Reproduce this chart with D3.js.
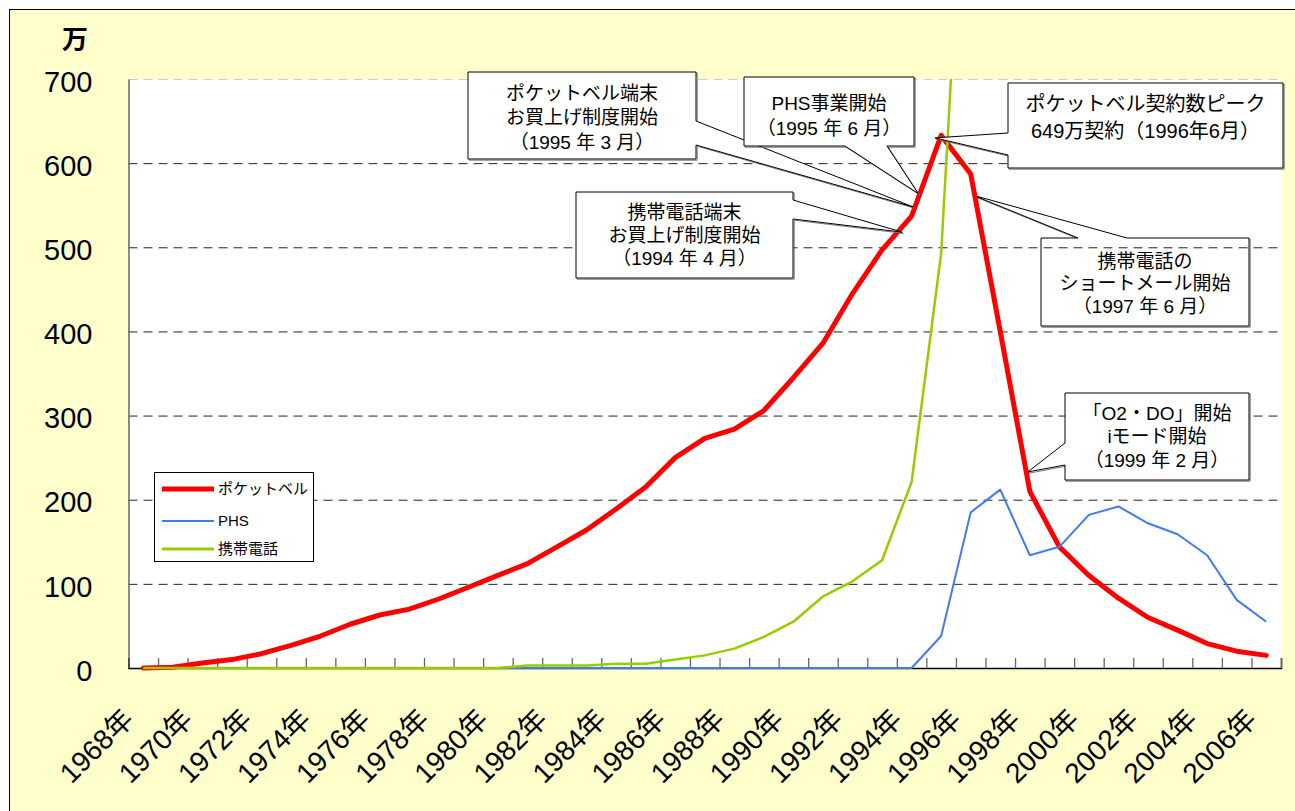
<!DOCTYPE html>
<html><head><meta charset="utf-8">
<script src="https://cdn.jsdelivr.net/npm/d3@7"></script>
<style>body{margin:0;background:#fff;} svg{display:block;}</style>
</head><body>
<svg id="c" width="1295" height="811"></svg>
<script>
// ---------- data ----------
const years = ["1968年","1969年","1970年","1971年","1972年","1973年","1974年","1975年","1976年","1977年",
  "1978年","1979年","1980年","1981年","1982年","1983年","1984年","1985年","1986年","1987年",
  "1988年","1989年","1990年","1991年","1992年","1993年","1994年","1995年","1996年","1997年",
  "1998年","1999年","2000年","2001年","2002年","2003年","2004年","2005年","2006年"];
const pager = [0,1,6,10,17,27,38,52,63,70,82,96,110,124,144,164,189,215,250,273,
  284,306,345,386,445,497,537,633,587,400,210,144,110,83,60,45,29,20,15];
const phs = [0,0,0,0,0,0,0,0,0,0,0,0,0,0,0,0,0,0,0,0,
  0,0,0,0,0,0,0,38,185,212,134,144,182,192,172,159,134,81,55];
const mobile = [0,0,0,0,0,0,0,0,0,0,0,0,0,3,3,3,5,5,10,15,
  23,37,55,85,103,128,221,493,1120,2088,3153,4153,5114,6094,6912,7566,8152,8700,9179];
const seriesNames = ["ポケットベル","PHS","携帯電話"];
const yTicks = [0,100,200,300,400,500,600,700];
const xTickLabels = years.filter((d,i)=>i%2===0);
const unitLabel = "万";
const noteTexts = [
  ["ポケットベル端末","お買上げ制度開始","（1995 年 3 月）"],
  ["携帯電話端末","お買上げ制度開始","（1994 年 4 月）"],
  ["PHS事業開始","（1995 年 6 月）"],
  ["ポケットベル契約数ピーク","649万契約（1996年6月）"],
  ["携帯電話の","ショートメール開始","（1997 年 6 月）"],
  ["「O2・DO」開始","iモード開始","（1999 年 2 月）"]
];
// pointer targets in data space: [category index, value]
const noteTargets = [[26.05,548],[25.68,518],[26.22,564],[26.79,630],[28.07,562],[29.93,233]];

// ---------- layout ----------
const M = {left:128.5, right:1281, top:79, bottom:668};
const colors = ["#FF0000","#3F7CF4","#99CC00"];
const widths = [5,2,2.5];
const noteLayout = [
  {box:[468,72,696,159], side:"right", a:121, b:145, ty:93, lh:24.5},
  {box:[576,192,793,278], side:"right", a:200, b:219, ty:212, lh:23},
  {box:[744,77,914,146], side:"bottom", a:845, b:887, ty:103, lh:25},
  {box:[1008,83,1283,168], side:"left", a:133, b:155, ty:104, lh:27},
  {box:[1041,238,1249,326], side:"top", a:1078, b:1127, ty:261, lh:22.5},
  {box:[1065,393,1249,480], side:"left", a:443, b:465, ty:413, lh:23.5}
];
</script>
<script>
const svg = d3.select("#c");
const JP = "'Noto Sans CJK JP', sans-serif";
const NUM = "'Liberation Sans','Noto Sans CJK JP', sans-serif";
const n = years.length;

svg.append("rect").attr("x",9.5).attr("y",9.5).attr("width",1300).attr("height",820)
  .attr("fill","#FFFFCC").attr("stroke","#000").attr("stroke-width",1);

const xb = d3.scaleBand().domain(years).range([M.left, M.right]);
const xi = d3.scaleLinear().domain([0,n]).range([M.left, M.right]);
const y = d3.scaleLinear().domain([0,700]).range([M.bottom, M.top]);

svg.append("rect").attr("x",M.left).attr("y",M.top).attr("width",M.right-M.left)
  .attr("height",M.bottom-M.top).attr("fill","#fff");

svg.append("defs").append("clipPath").attr("id","clip").append("rect")
  .attr("x",M.left).attr("y",M.top).attr("width",M.right-M.left).attr("height",M.bottom-M.top+4);

function notePath(k){
  const L = noteLayout[k];
  const [x0,y0,x1,y1] = L.box;
  const t = noteTargets[k];
  const tx = xi(t[0]+0.5), ty = y(t[1]);
  if(L.side==="right") return `M${x0},${y0}H${x1}V${L.a}L${tx},${ty}L${x1},${L.b}V${y1}H${x0}Z`;
  if(L.side==="left") return `M${x0},${y0}H${x1}V${y1}H${x0}V${L.b}L${tx},${ty}L${x0},${L.a}Z`;
  if(L.side==="bottom") return `M${x0},${y0}H${x1}V${y1}H${L.b}L${tx},${ty}L${L.a},${y1}H${x0}Z`;
  return `M${x0},${y0}H${L.a}L${tx},${ty}L${L.b},${y0}H${x1}V${y1}H${x0}Z`;
}
function drawNote(g, k){
  const L = noteLayout[k];
  const p = notePath(k);
  g.append("path").attr("d",p).attr("transform","translate(1.2,1.2)")
    .attr("fill","none").attr("stroke","#777").attr("stroke-width",1);
  g.append("path").attr("d",p).attr("fill","#fff").attr("stroke","#000").attr("stroke-width",1);
  const cx = (L.box[0]+L.box[2])/2;
  noteTexts[k].forEach((s,j)=>{
    g.append("text").attr("x",cx).attr("y",L.ty+j*L.lh).attr("text-anchor","middle")
      .attr("dy","0.36em").attr("font-family",NUM)
      .attr("font-size", k===3?20:19).attr("fill","#000").text(s);
  });
}

// note E sits under gridlines
drawNote(svg.append("g"), 4);

// gridlines
const grid = svg.append("g").attr("transform",`translate(${M.left},0)`)
  .call(d3.axisLeft(y).tickValues(yTicks.filter(v=>v>0)).tickSize(-(M.right-M.left)).tickFormat(""));
grid.select(".domain").remove();
grid.selectAll("line").attr("stroke-dasharray","9,6")
  .attr("stroke", d=> d===700 ? "#ccc" : "#222");

// y axis labels
const ya = svg.append("g").attr("transform",`translate(${M.left},0)`)
  .call(d3.axisLeft(y).tickValues(yTicks).tickSize(0).tickPadding(36));
ya.select(".domain").attr("stroke","#666").attr("stroke-width",1.5);
ya.selectAll("text").attr("font-family",NUM).attr("font-size",29).attr("fill","#000")
  .attr("dy","0.42em");

svg.append("text").attr("x",75).attr("y",37).attr("text-anchor","middle")
  .attr("dominant-baseline","central").attr("font-family",JP).attr("font-size",26)
  .attr("font-weight","bold").text(unitLabel);

// x axis ticks at band boundaries
const xt = svg.append("g").attr("transform",`translate(0,${M.bottom})`)
  .call(d3.axisBottom(xi).tickValues(d3.range(0,n+1)).tickSize(-10).tickFormat(""));
xt.select(".domain").attr("stroke","#000").attr("stroke-width",1.5);
xt.selectAll(".tick line").attr("stroke","#666").attr("stroke-width",1.3);

// x labels
const xa = svg.append("g").attr("transform",`translate(0,${M.bottom})`)
  .call(d3.axisBottom(xb).tickValues(xTickLabels).tickSize(0));
xa.select(".domain").remove();
xa.selectAll(".tick text")
  .attr("font-family",NUM).attr("font-size",28).attr("fill","#000")
  .attr("text-anchor","end").attr("y",0).attr("dy",0)
  .attr("transform","translate(-8,53) rotate(-45)");

// series
const line = d3.line().x((d,i)=>xi(i+0.5)).y(d=>y(d));
const plotG = svg.append("g").attr("clip-path","url(#clip)");
[pager, phs, mobile].forEach((s,k)=>{
  plotG.append("path").datum(s).attr("d",line).attr("fill","none")
    .attr("stroke",colors[k]).attr("stroke-width",widths[k])
    .attr("stroke-linejoin","round").attr("stroke-linecap", k===0?"round":"butt");
});

// notes
[0,1,2,3,5].forEach(k=>drawNote(svg.append("g"),k));

// legend
const lg = svg.append("g");
lg.append("rect").attr("x",154.5).attr("y",472.5).attr("width",159).attr("height",89)
  .attr("fill","#fff").attr("stroke","#000").attr("stroke-width",1);
const ly = [489,521,549];
seriesNames.forEach((s,k)=>{
  lg.append("line").attr("x1",162).attr("x2",214).attr("y1",ly[k]).attr("y2",ly[k])
    .attr("stroke",colors[k]).attr("stroke-width",[5,2,3][k]);
  lg.append("text").attr("x",218).attr("y",ly[k]).attr("dy","0.36em")
    .attr("font-family",NUM).attr("font-size",15).attr("fill","#000").text(s);
});
</script>
</body></html>
